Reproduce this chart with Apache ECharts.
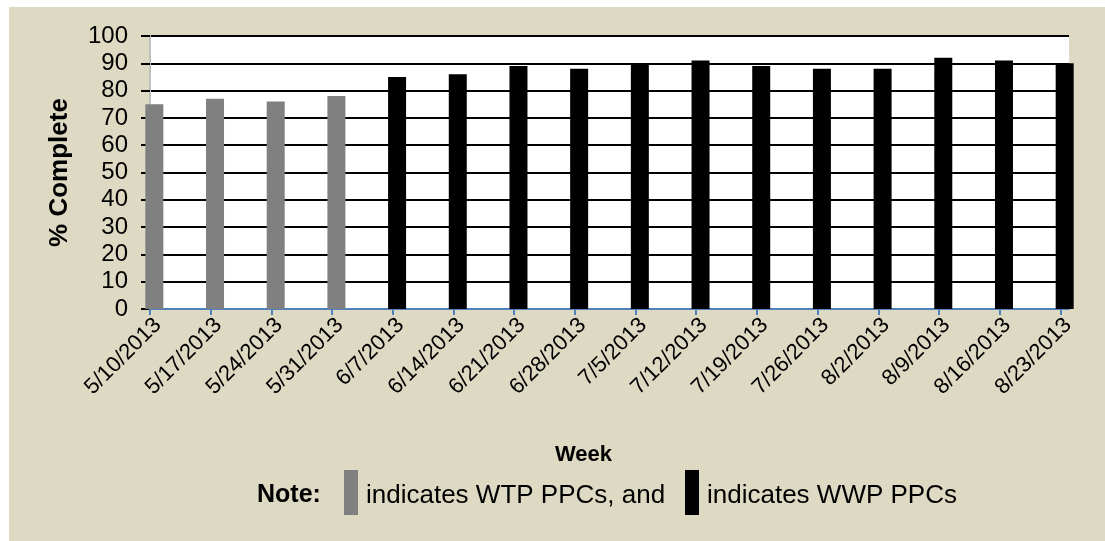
<!DOCTYPE html>
<html>
<head>
<meta charset="utf-8">
<script src="https://cdn.jsdelivr.net/npm/echarts@6/dist/echarts.min.js"></script>
<style>
  html, body { margin: 0; padding: 0; background: #ffffff; }
  #bg { position: absolute; left: 9px; top: 7px; width: 1096px; height: 534px; background: #ddd9c3; }
  #chart { position: absolute; left: 0; top: 0; width: 1105px; height: 541px; }
</style>
</head>
<body>
<div id="bg"></div>
<div id="chart"></div>
<script>
// Weekly dates (category labels)
const weeks = ['5/10/2013','5/17/2013','5/24/2013','5/31/2013','6/7/2013','6/14/2013','6/21/2013','6/28/2013',
               '7/5/2013','7/12/2013','7/19/2013','7/26/2013','8/2/2013','8/9/2013','8/16/2013','8/23/2013'];
// % complete per week
const percentComplete = [75, 77, 76, 78, 85, 86, 89, 88, 90, 91, 89, 88, 88, 92, 91, 90];
// plant type for each week
const plantType = ['WTP','WTP','WTP','WTP','WWP','WWP','WWP','WWP','WWP','WWP','WWP','WWP','WWP','WWP','WWP','WWP'];
const yTicks = [0, 10, 20, 30, 40, 50, 60, 70, 80, 90, 100];

const typeColor = { WTP: '#808080', WWP: '#000000' };
const DAYS = 7;
const tickVals = weeks.map((w, i) => i * DAYS);
const FONT = 'Liberation Sans, Arial, sans-serif';

const chart = echarts.init(document.getElementById('chart'), null, { renderer: 'canvas' });
chart.setOption({
  backgroundColor: 'transparent',
  animation: false,
  grid: { left: 150, right: 36, top: 36, bottom: 232, show: true, backgroundColor: '#ffffff', borderWidth: 0 },
  xAxis: {
    type: 'value',
    min: 0,
    max: (weeks.length - 1) * DAYS + 1,
    name: 'Week',
    nameLocation: 'middle',
    nameGap: 135,
    nameTextStyle: { fontFamily: FONT, fontWeight: 'bold', fontSize: 22, color: '#000', padding: [0, 52, 0, 0] },
    splitLine: { show: false },
    axisLine: { show: true, onZero: false, lineStyle: { color: '#4f81bd', width: 2 } },
    axisTick: { show: true, customValues: tickVals, length: 6, lineStyle: { color: '#4f81bd', width: 2 } },
    axisLabel: {
      customValues: tickVals,
      rotate: 45,
      margin: 5,
      verticalAlign: 'top',
      fontFamily: FONT,
      fontSize: 22,
      color: '#000',
      formatter: v => weeks[Math.round(v / DAYS)] || ''
    }
  },
  yAxis: {
    type: 'value',
    min: 0,
    max: 100,
    interval: 10,
    name: '% Complete',
    nameLocation: 'middle',
    nameGap: 77,
    nameTextStyle: { fontFamily: FONT, fontWeight: 'bold', fontSize: 26, color: '#000' },
    axisLine: { show: true, lineStyle: { color: '#bfbfbf', width: 2 } },
    axisTick: { show: true, length: 9, lineStyle: { color: '#000', width: 2 } },
    axisLabel: {
      margin: 22,
      fontFamily: FONT,
      fontSize: 24,
      color: '#000',
      customValues: yTicks
    },
    splitLine: { show: true, lineStyle: { color: '#000', width: 2 } }
  },
  series: [{
    type: 'bar',
    barWidth: 18,
    clip: true,
    data: percentComplete.map((v, i) => ({
      value: [i * DAYS + 0.5, v],
      itemStyle: { color: typeColor[plantType[i]] }
    }))
  }],
  graphic: [
    { type: 'text', left: 257, top: 483, style: { text: 'Note:', font: 'bold 25px ' + FONT, fill: '#000' } },
    { type: 'rect', shape: { x: 344, y: 470, width: 14, height: 45 }, style: { fill: typeColor.WTP } },
    { type: 'text', left: 366, top: 483, style: { text: 'indicates WTP PPCs, and', font: '26px ' + FONT, fill: '#000' } },
    { type: 'rect', shape: { x: 685, y: 470, width: 14, height: 45 }, style: { fill: typeColor.WWP } },
    { type: 'text', left: 707, top: 483, style: { text: 'indicates WWP PPCs', font: '26px ' + FONT, fill: '#000' } }
  ]
});
</script>
</body>
</html>
